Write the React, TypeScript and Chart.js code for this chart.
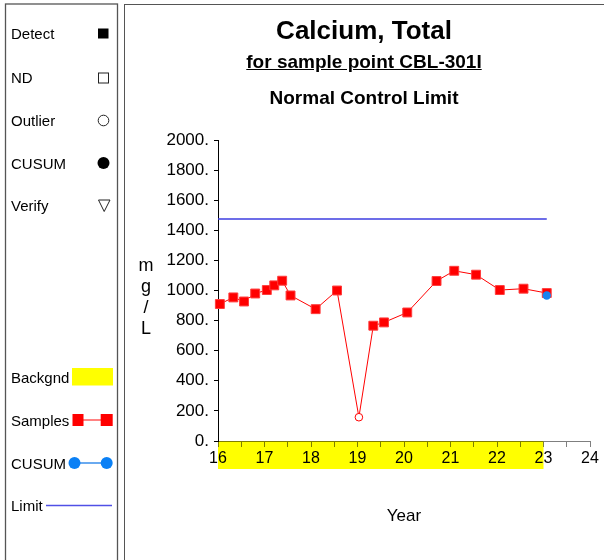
import React, { useEffect, useRef } from "react";
import { Chart, registerables } from "chart.js";

Chart.register(...registerables);

// ---- data ----
const sampleYears = [16.04, 16.33, 16.56, 16.8, 17.05, 17.21, 17.38, 17.56, 18.1, 18.56, 19.03, 19.34, 19.57, 20.07, 20.7, 21.08, 21.55, 22.06, 22.57, 23.07];
const sampleValues = [910, 954, 927, 980, 1003, 1034, 1065, 967, 876, 1000, 158, 766, 788, 854, 1063, 1131, 1105, 1003, 1012, 983];
const sampleKinds = ["d", "d", "d", "d", "d", "d", "d", "d", "d", "d", "o", "d", "d", "d", "d", "d", "d", "d", "d", "d"];
const cusumYears = [23.07];
const cusumValues = [967];
const limitYears = [16, 23.07];
const limitValues = [1475, 1475];
const backgroundRange = [16, 23];
const yTickMin = 0;
const yTickMax = 2000;
const yTickStep = 200;
const xTickMin = 16;
const xTickMax = 24;

const FONT = "'Liberation Sans', Arial, Helvetica, sans-serif";

const bgPlugin = {
  id: "bgBand",
  beforeDraw(chart: any) {
    const xs = chart.scales.x;
    const ctx = chart.ctx;
    const l = xs.getPixelForValue(backgroundRange[0]);
    const r = xs.getPixelForValue(backgroundRange[1]);
    ctx.save();
    ctx.fillStyle = "#ffff00";
    ctx.fillRect(l, chart.chartArea.bottom, r - l, 28);
    ctx.restore();
  },
};

function ChartView() {
  const ref = useRef<HTMLCanvasElement | null>(null);
  useEffect(() => {
    if (!ref.current) return;
    Chart.defaults.font.family = FONT;
    const chart = new Chart(ref.current, {
      type: "line",
      data: {
        datasets: [
          {
            label: "CUSUM",
            data: cusumYears.map((x, i) => ({ x, y: cusumValues[i] })),
            showLine: false,
            pointStyle: "circle",
            pointRadius: 4.2,
            backgroundColor: "#1a84f0",
            borderColor: "#1a84f0",
            pointBorderWidth: 0,
            clip: false as any,
          },
          {
            label: "Samples",
            data: sampleYears.map((x, i) => ({ x, y: sampleValues[i] })),
            borderColor: "#ff0000",
            borderWidth: 1,
            pointStyle: sampleKinds.map((k) => (k === "o" ? "circle" : "rect")) as any,
            pointRadius: sampleKinds.map((k) => (k === "o" ? 3.8 : 6.3)) as any,
            pointBackgroundColor: sampleKinds.map((k) => (k === "o" ? "#ffffff" : "#ff0000")) as any,
            pointBorderColor: sampleKinds.map((k) => (k === "o" ? "#ff0000" : "#ff3c3c")) as any,
            pointBorderWidth: 1,
            clip: false as any,
          },
          {
            label: "Limit",
            data: limitYears.map((x, i) => ({ x, y: limitValues[i] })),
            borderColor: "#3c3ce0",
            borderWidth: 1.6,
            pointRadius: 0,
          },
        ],
      },
      options: {
        animation: false,
        responsive: false,
        devicePixelRatio: 1,
        layout: { padding: { left: 0, right: 14, top: 140, bottom: 0 } },
        plugins: {
          legend: { display: false },
          tooltip: { enabled: false },
          title: { display: false },
        },
        scales: {
          x: {
            type: "linear",
            min: xTickMin,
            max: xTickMax,
            ticks: {
              stepSize: 0.5,
              autoSkip: false,
              maxRotation: 0,
              color: "#000",
              padding: 2,
              font: { size: 16 },
              callback: (v: any) => (Number.isInteger(v) ? String(v) : ""),
            },
            grid: { drawOnChartArea: false, drawTicks: true, tickLength: 6, color: "rgba(0,0,0,0.5)" },
            border: { display: true, color: "rgba(0,0,0,0.5)", width: 1 },
            title: { display: true, text: "Year", color: "#000", font: { size: 17 }, padding: { top: 4, bottom: 33 } },
            afterFit: (s: any) => {
              s.height = 119;
              s.paddingLeft = 0;
              s.paddingRight = 0;
            },
          },
          y: {
            type: "linear",
            min: yTickMin,
            max: yTickMax,
            ticks: {
              stepSize: yTickStep,
              color: "#000",
              padding: 5,
              font: { size: 17 },
              callback: (v: any) => v + ".",
            },
            grid: { drawOnChartArea: false, drawTicks: true, tickLength: 4, color: "#000" },
            border: { display: true, color: "#000", width: 1 },
            afterFit: (s: any) => {
              s.width = 218;
              s.paddingTop = 0;
              s.paddingBottom = 0;
            },
          },
        },
      },
      plugins: [bgPlugin],
    } as any);
    return () => chart.destroy();
  }, []);
  return (
    <canvas
      ref={ref}
      width={604}
      height={560}
      style={{ position: "absolute", left: 0, top: 0, width: 604, height: 560 }}
    />
  );
}

function Legend() {
  const t = { fontFamily: FONT, fontSize: 15, fill: "#000" } as any;
  return (
    <svg width={122} height={560} style={{ position: "absolute", left: 0, top: 0 }}>
      <rect x={5.5} y={4} width={112} height={600} fill="none" stroke="#555" strokeWidth={1.3} />
      <text x={11} y={39} style={t}>Detect</text>
      <rect x={98} y={28.5} width={10.5} height={10} fill="#000" />
      <text x={11} y={82.5} style={t}>ND</text>
      <rect x={98.5} y={73} width={10} height={10} fill="none" stroke="#222" strokeWidth={1} />
      <text x={11} y={125.5} style={t}>Outlier</text>
      <circle cx={103.5} cy={120.5} r={5.3} fill="none" stroke="#222" strokeWidth={1} />
      <text x={11} y={168.5} style={t}>CUSUM</text>
      <circle cx={103.5} cy={163} r={6} fill="#000" />
      <text x={11} y={211} style={t}>Verify</text>
      <polygon points="98.5,200 110,200 104.2,211.5" fill="none" stroke="#222" strokeWidth={1} />

      <text x={11} y={383} style={t}>Backgnd</text>
      <rect x={72} y={368} width={41} height={17.5} fill="#ffff00" />
      <text x={11} y={426} style={t}>Samples</text>
      <line x1={83} y1={420} x2={101} y2={420} stroke="#ff5a5a" strokeWidth={1.5} />
      <rect x={72.5} y={414} width={11} height={12} fill="#ff0000" />
      <rect x={100.7} y={414} width={12} height={12} fill="#ff0000" />
      <text x={11} y={468.5} style={t}>CUSUM</text>
      <line x1={74.5} y1={463} x2={106.7} y2={463} stroke="#6aaaf0" strokeWidth={2} />
      <circle cx={74.5} cy={463} r={6} fill="#0a80f5" />
      <circle cx={106.7} cy={463} r={6} fill="#0a80f5" />
      <text x={11} y={511} style={t}>Limit</text>
      <line x1={46} y1={505.5} x2={112} y2={505.5} stroke="#5050e6" strokeWidth={1.5} />
    </svg>
  );
}

export default function App() {
  const center = { position: "absolute", left: 124, width: 480, textAlign: "center", fontFamily: FONT, color: "#000", fontWeight: "bold" } as any;
  return (
    <div style={{ position: "absolute", left: 0, top: 0, width: 604, height: 560, overflow: "hidden", background: "#fff" }}>
      <div style={{ position: "absolute", left: 124, top: 4, width: 600, height: 600, border: "1.3px solid #555", boxSizing: "border-box" }} />
      <ChartView />
      <Legend />
      <div style={{ ...center, top: 15, fontSize: 26, lineHeight: "30px" }}>Calcium, Total</div>
      <div style={{ ...center, top: 51, fontSize: 19, lineHeight: "22px" }}>
        <span style={{ textDecoration: "underline" }}>for sample point CBL-301I</span>
      </div>
      <div style={{ ...center, top: 87, fontSize: 19, lineHeight: "22px" }}>Normal Control Limit</div>
      <div style={{ position: "absolute", left: 136, top: 255, width: 20, textAlign: "center", fontFamily: FONT, fontSize: 18, lineHeight: "21px", color: "#000" }}>
        <div>m</div>
        <div>g</div>
        <div>/</div>
        <div>L</div>
      </div>
    </div>
  );
}
